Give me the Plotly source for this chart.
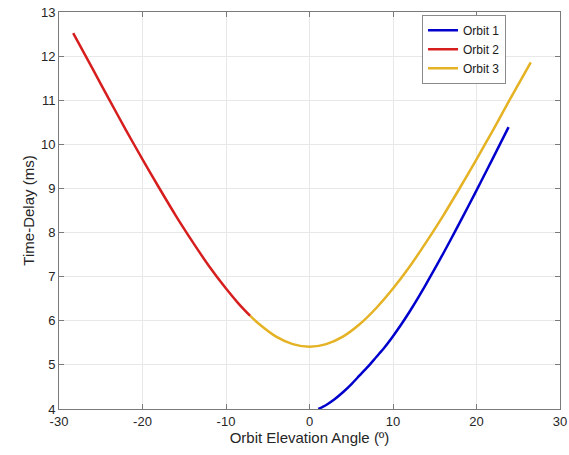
import plotly.graph_objects as go

# Orbit 1 (blue)
orbit1_x = [1.06, 2.0, 3.0, 4.0, 5.0, 6.0, 7.0, 8.0, 9.0, 10.0, 11.0, 12.0, 13.0, 14.5, 16.0, 17.5, 19.0, 20.5, 22.0, 23.84]
orbit1_y = [4.0, 4.09, 4.22, 4.38, 4.56, 4.76, 4.96, 5.18, 5.40, 5.65, 5.92, 6.21, 6.52, 7.01, 7.52, 8.05, 8.59, 9.14, 9.70, 10.39]

# Orbit 2 (red)
orbit2_x = [-28.3, -26.0, -24.0, -22.0, -20.0, -18.0, -16.0, -14.0, -12.0, -10.0, -8.5, -7.1]
orbit2_y = [12.52, 11.72, 11.02, 10.33, 9.66, 9.01, 8.38, 7.79, 7.23, 6.73, 6.39, 6.11]

# Orbit 3 (yellow)
orbit3_x = [-7.1, -6.0, -4.0, -2.0, 0.0, 2.0, 4.0, 6.0, 8.0, 10.0, 12.0, 14.0, 16.0, 18.0, 20.0, 22.0, 24.0, 26.5]
orbit3_y = [6.11, 5.92, 5.64, 5.47, 5.41, 5.47, 5.64, 5.92, 6.29, 6.73, 7.23, 7.79, 8.38, 9.01, 9.66, 10.33, 11.02, 11.86]

x_ticks = [-30, -20, -10, 0, 10, 20, 30]
y_ticks = [4, 5, 6, 7, 8, 9, 10, 11, 12, 13]

FONT = "Liberation Sans, Arial, Helvetica, sans-serif"

fig = go.Figure()
series = [
    ("Orbit 1", orbit1_x, orbit1_y, "#0000cd"),
    ("Orbit 2", orbit2_x, orbit2_y, "#d61e1e"),
    ("Orbit 3", orbit3_x, orbit3_y, "#e5b224"),
]
for name, xs, ys, col in series:
    fig.add_trace(go.Scatter(
        x=xs, y=ys, mode="lines", name=name,
        line=dict(color=col, width=2.5, shape="spline", smoothing=0.8),
    ))

axis_common = dict(
    showline=True, linecolor="#7a7a7a", linewidth=1, mirror="ticks",
    ticks="inside", ticklen=5, tickcolor="#7a7a7a",
    showgrid=True, gridcolor="#e8e8e8", gridwidth=1,
    zeroline=False, automargin=False,
    tickfont=dict(family=FONT, size=13, color="#262626"),
)

fig.update_layout(
    width=569, height=455,
    margin=dict(l=59, r=9, t=12, b=46),
    paper_bgcolor="white", plot_bgcolor="white",
    font=dict(family=FONT, color="#262626"),
    xaxis=dict(range=[-30, 30], tickvals=x_ticks, ticktext=[str(v) for v in x_ticks],
               title=dict(text="Orbit Elevation Angle (º)", font=dict(family=FONT, size=15, color="#262626"), standoff=4),
               **axis_common),
    yaxis=dict(range=[4, 13], tickvals=y_ticks, ticktext=[str(v) for v in y_ticks],
               title=dict(text="Time-Delay (ms)", font=dict(family=FONT, size=15, color="#262626"), standoff=2),
               **axis_common),
    legend=dict(
        x=0.7246, y=0.993, xanchor="left", yanchor="top",
        bgcolor="white", bordercolor="#8a8a8a", borderwidth=1,
        font=dict(family=FONT, size=12, color="#1a1a1a"),
        tracegroupgap=0, itemwidth=30,
    ),
    showlegend=True,
)

fig.write_html("out.html", config={"displayModeBar": False},
               post_script="document.body.style.margin='0px';")
